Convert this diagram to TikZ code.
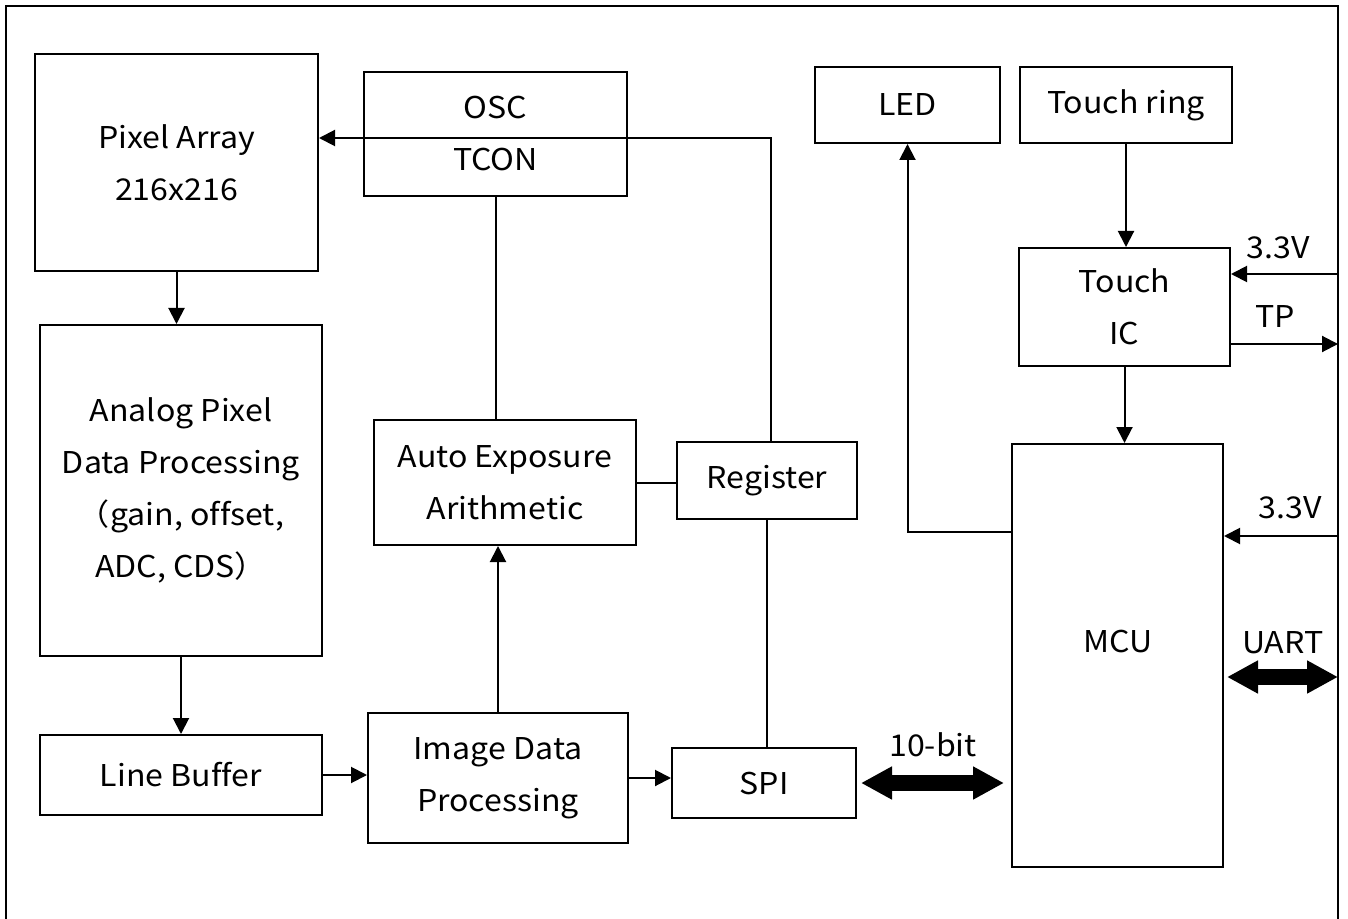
\documentclass[tikz,border=0pt]{standalone}
\usepackage{fontspec}
\setmainfont[FakeStretch=1.07,Ligatures=NoCommon]{Noto Sans CJK JP}
\usetikzlibrary{arrows.meta,calc}
\begin{document}
\begin{tikzpicture}[x=0.5pt,y=-0.5pt,
  box/.style={draw, line width=1pt, inner sep=0pt, align=center, font=\fontsize{15}{26}\selectfont},
  txt/.style={inner sep=0pt, align=center, font=\fontsize{15}{26}\selectfont},
  ln/.style={line width=1pt},
  arr/.style={line width=1pt, -{Triangle[length=8pt,width=8pt]}},
  big/.style={line width=8pt, {Triangle[length=15.5pt,width=15.5pt]}-{Triangle[length=15.5pt,width=15.5pt]}}
]
\useasboundingbox (0,0) rectangle (1348,919);
% frame
\draw[line width=1pt] (6,919) -- (6,6) -- (1338,6) -- (1338,919);

% boxes
\node[box, minimum width=141.5pt, minimum height=108.5pt] (pix) at (176.5,162.5) {Pixel Array\\216x216};
\node[box, minimum width=141pt, minimum height=165.5pt] (ana) at (181,490.5) {Analog Pixel\\Data Processing\\（gain, offset,\\ADC, CDS）};
\node[box, minimum width=141pt, minimum height=40pt] (lb) at (181,775) {Line Buffer};
\node[box, minimum width=130pt, minimum height=65pt] (idp) at (498,778) {Image Data\\Processing};
\node[box, minimum width=92pt, minimum height=35pt] (spi) at (764,783) {SPI};
\node[box, minimum width=131pt, minimum height=62.5pt] (ae) at (505,482.5) {Auto Exposure\\Arithmetic};
\node[box, minimum width=131.5pt, minimum height=62pt] (osc) at (495.5,134) {OSC\\TCON};
\node[box, minimum width=90pt, minimum height=38.5pt] (reg) at (767,480.5) {Register};
\node[box, minimum width=92.5pt, minimum height=38pt] (led) at (907.5,105) {LED};
\node[box, minimum width=106pt, minimum height=38pt] (tr) at (1126,105) {Touch ring};
\node[box, minimum width=105.5pt, minimum height=59pt] (tic) at (1124.5,307) {Touch\\IC};
\node[box, minimum width=105.5pt, minimum height=211.5pt] (mcu) at (1117.5,655.5) {};
\node[txt] (mcutxt) at (1118,642) {MCU};

% free ends on the frame
\coordinate (k) at (771,138);
\coordinate (v1) at (1338,274);
\coordinate (tp) at (1338,344);
\coordinate (v2) at (1338,536);
\coordinate (ua) at (1338,677);
\coordinate (ledc) at (1012,532);

% connectors
\draw[arr] (pix.south) -- (pix.south |- ana.north);
\draw[arr] (ana.south) -- (lb.north);
\draw[arr] (lb.east) -- (lb.east -| idp.west);
\draw[arr] (idp.east) -- (idp.east -| spi.west);
\draw[arr] (idp.north) -- (idp.north |- ae.south);
\draw[ln] (osc.south) -- (osc.south |- ae.north);
\draw[arr] (reg.north -| k) -- (k) -- (k -| pix.east);
\draw[ln] (ae.east) -- (ae.east -| reg.west);
\draw[ln] (reg.south) -- (reg.south |- spi.north);
\draw[arr] (tr.south) -- (tr.south |- tic.north);
\draw[arr] (tic.south) -- (tic.south |- mcu.north);
\draw[arr] (ledc) -| (led.south);
\draw[arr] (v1) -- (v1 -| tic.east);
\draw[arr] (tp -| tic.east) -- (tp);
\draw[arr] (v2) -- (v2 -| mcu.east);
\draw[big, shorten <=2pt, shorten >=3.5pt] (spi.east |- 0,783) -- (mcu.west |- 0,783);
\draw[big, shorten <=1.5pt] (mcu.east |- ua) -- (ua);

% labels
\node[txt] (l33a) at (1278,248) {3.3V};
\node[txt] (ltp) at (1275,317) {TP};
\node[txt] (l33b) at (1290,508) {3.3V};
\node[txt] (luart) at (1283,643) {UART};
\node[txt] (l10) at (933,745) {10-bit};
\end{tikzpicture}
\end{document}
